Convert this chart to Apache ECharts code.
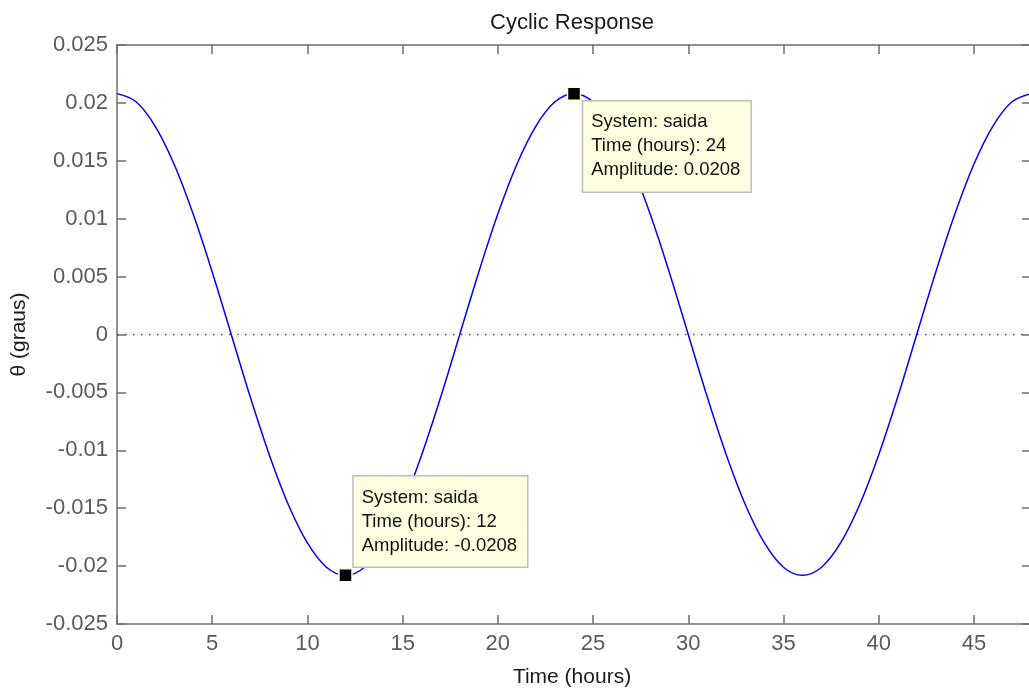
<!DOCTYPE html>
<html>
<head>
<meta charset="utf-8">
<style>
  html, body { margin: 0; padding: 0; background: #ffffff; overflow: hidden; }
  #chart { width: 1029px; height: 691px; }
</style>
<script src="https://cdn.jsdelivr.net/npm/echarts@6/dist/echarts.min.js"></script>
</head>
<body>
<div id="chart"></div>
<script>
// Time samples (hours) and the response angle theta (degrees)
const timeHours = [0, 1, 2, 3, 4, 5, 6, 7, 8, 9, 10, 11, 12, 13, 14, 15, 16, 17, 18, 19, 20, 21, 22, 23, 24,
  25, 26, 27, 28, 29, 30, 31, 32, 33, 34, 35, 36, 37, 38, 39, 40, 41, 42, 43, 44, 45, 46, 47, 48];
const thetaValues = [0.0208, 0.0201, 0.0180, 0.0147, 0.0104, 0.0054, 0.0000, -0.0054, -0.0104, -0.0147, -0.0180, -0.0201, -0.0208,
  -0.0201, -0.0180, -0.0147, -0.0104, -0.0054, 0.0000, 0.0054, 0.0104, 0.0147, 0.0180, 0.0201, 0.0208,
  0.0201, 0.0180, 0.0147, 0.0104, 0.0054, 0.0000, -0.0054, -0.0104, -0.0147, -0.0180, -0.0201, -0.0208,
  -0.0201, -0.0180, -0.0147, -0.0104, -0.0054, 0.0000, 0.0054, 0.0104, 0.0147, 0.0180, 0.0201, 0.0208];

// Data tips pinned on the curve
const tipSystem = ['saida', 'saida'];
const tipTimes = [12, 24];
const tipAmplitudes = [-0.0208, 0.0208];

// Reference line at zero
const zeroLineTimes = [0, 48];
const zeroLineValues = [0, 0];

const FONT = '"Liberation Sans", Arial, sans-serif';
const AXIS_GRAY = '#6e6e6e';
const LABEL_GRAY = '#5a5a5a';

const chart = echarts.init(document.getElementById('chart'), null, { renderer: 'canvas' });

const curve = timeHours.map((t, i) => [t, thetaValues[i]]);
const zeroLine = zeroLineTimes.map((t, i) => [t, zeroLineValues[i]]);

// label offsets relative to the marker box: one tip opens above-right, the other below-right
const tipLabelPos = [[15.5, -91.5], [16.5, 15]];
const tips = tipTimes.map((t, i) => ({
  value: [t, tipAmplitudes[i]],
  label: {
    position: tipLabelPos[i],
    formatter: 'System: ' + tipSystem[i] + '\nTime (hours): ' + t + '\nAmplitude: ' + tipAmplitudes[i]
  }
}));

const sharedAxisLine = { show: true, onZero: false, lineStyle: { color: AXIS_GRAY, width: 1.5 } };
const sharedTick = { show: true, inside: true, length: 9, lineStyle: { color: AXIS_GRAY, width: 1.5 } };

chart.setOption({
  animation: false,
  backgroundColor: '#ffffff',
  title: {
    text: 'Cyclic Response',
    left: 567,
    textAlign: 'center',
    top: 7,
    textStyle: { fontFamily: FONT, fontSize: 22, fontWeight: 'normal', color: '#1a1a1a' }
  },
  // the plot box runs slightly past the right edge of the canvas
  grid: { left: 117, width: 914, top: 45, bottom: 67, containLabel: false, outerBoundsMode: 'none' },
  xAxis: [
    {
      type: 'value', min: 0, max: 48, interval: 5, position: 'bottom',
      name: 'Time (hours)', nameLocation: 'middle', nameGap: 43,
      nameTextStyle: { fontFamily: FONT, fontSize: 21, color: '#1a1a1a', padding: [0, 4, 0, 0] },
      axisLine: sharedAxisLine, axisTick: sharedTick, splitLine: { show: false },
      axisLabel: {
        margin: 9, fontFamily: FONT, fontSize: 22, color: LABEL_GRAY,
        formatter: v => (v % 5 === 0 ? String(v) : '')
      }
    },
    {
      type: 'value', min: 0, max: 48, interval: 5, position: 'top',
      axisLine: sharedAxisLine, axisTick: sharedTick, splitLine: { show: false },
      axisLabel: { show: false }
    }
  ],
  yAxis: [
    {
      type: 'value', min: -0.025, max: 0.025, interval: 0.005, position: 'left',
      name: 'θ (graus)', nameLocation: 'middle', nameGap: 87, nameRotate: 90,
      nameTextStyle: { fontFamily: FONT, fontSize: 21, color: '#1a1a1a' },
      axisLine: sharedAxisLine, axisTick: sharedTick, splitLine: { show: false },
      axisLabel: { margin: 9, fontFamily: FONT, fontSize: 22, color: LABEL_GRAY }
    },
    {
      type: 'value', min: -0.025, max: 0.025, interval: 0.005, position: 'right',
      axisLine: sharedAxisLine, axisTick: sharedTick, splitLine: { show: false },
      axisLabel: { show: false }
    }
  ],
  series: [
    {
      name: 'zero',
      type: 'line',
      data: zeroLine,
      symbol: 'none',
      silent: true,
      z: 1,
      lineStyle: { color: '#555555', width: 1.6, type: [1.6, 6.4] }
    },
    {
      name: 'saida',
      type: 'line',
      data: curve,
      smooth: 0.35,
      symbol: 'none',
      z: 2,
      lineStyle: { color: '#0000ff', width: 1.5 }
    },
    {
      name: 'datatips',
      type: 'scatter',
      data: tips,
      symbol: 'rect',
      symbolSize: 13,
      z: 5,
      itemStyle: { color: '#000000', borderColor: '#fffde0', borderWidth: 1.5, opacity: 1 },
      label: {
        show: true,
        align: 'left',
        verticalAlign: 'top',
        fontFamily: FONT,
        fontSize: 18.5,
        lineHeight: 24,
        color: '#111111',
        backgroundColor: '#ffffe1',
        borderColor: '#bdbdbd',
        borderWidth: 1.5,
        padding: [9, 10, 9, 8]
      }
    }
  ]
});
</script>
</body>
</html>
